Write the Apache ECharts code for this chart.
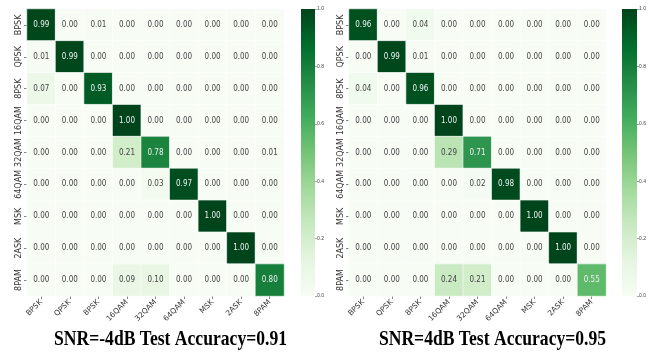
<!DOCTYPE html>
<html>
<head>
<meta charset="utf-8">
<script src="https://cdn.jsdelivr.net/npm/echarts@6/dist/echarts.min.js"></script>
<style>
html,body{margin:0;padding:0;background:#fff;}
#c{width:659px;height:353px;}
</style>
</head>
<body>
<div id="c"></div>
<script>
var classes = ['BPSK','QPSK','8PSK','16QAM','32QAM','64QAM','MSK','2ASK','8PAM'];
var matrixLeft = [
  [0.99,0.00,0.01,0.00,0.00,0.00,0.00,0.00,0.00],
  [0.01,0.99,0.00,0.00,0.00,0.00,0.00,0.00,0.00],
  [0.07,0.00,0.93,0.00,0.00,0.00,0.00,0.00,0.00],
  [0.00,0.00,0.00,1.00,0.00,0.00,0.00,0.00,0.00],
  [0.00,0.00,0.00,0.21,0.78,0.00,0.00,0.00,0.01],
  [0.00,0.00,0.00,0.00,0.03,0.97,0.00,0.00,0.00],
  [0.00,0.00,0.00,0.00,0.00,0.00,1.00,0.00,0.00],
  [0.00,0.00,0.00,0.00,0.00,0.00,0.00,1.00,0.00],
  [0.00,0.00,0.00,0.09,0.10,0.00,0.00,0.00,0.80]
];
var matrixRight = [
  [0.96,0.00,0.04,0.00,0.00,0.00,0.00,0.00,0.00],
  [0.00,0.99,0.01,0.00,0.00,0.00,0.00,0.00,0.00],
  [0.04,0.00,0.96,0.00,0.00,0.00,0.00,0.00,0.00],
  [0.00,0.00,0.00,1.00,0.00,0.00,0.00,0.00,0.00],
  [0.00,0.00,0.00,0.29,0.71,0.00,0.00,0.00,0.00],
  [0.00,0.00,0.00,0.00,0.02,0.98,0.00,0.00,0.00],
  [0.00,0.00,0.00,0.00,0.00,0.00,1.00,0.00,0.00],
  [0.00,0.00,0.00,0.00,0.00,0.00,0.00,1.00,0.00],
  [0.00,0.00,0.00,0.24,0.21,0.00,0.00,0.00,0.55]
];
var titleLeft = 'SNR=-4dB Test Accuracy=0.91';
var titleRight = 'SNR=4dB Test Accuracy=0.95';
var colorbarTicks = [0.0,0.2,0.4,0.6,0.8,1.0];
var scaleRange = [0, 1];

var greens = ['#f7fcf5','#e5f5e0','#c7e9c0','#a1d99b','#74c476','#41ab5d','#238b45','#006d2c','#00441b'];

function cells(m){
  var out = [];
  for (var r=0;r<m.length;r++){
    for (var c=0;c<m[r].length;c++){
      var v = m[r][c];
      out.push({value:[c,r,v], label:{color: v>0.5 ? '#f2f2f2' : '#444444'}});
    }
  }
  return out;
}

var cellFont = "'DejaVu Sans Condensed','Liberation Sans Narrow','Liberation Sans',sans-serif";
var axisFont = "'DejaVu Sans', sans-serif";

var grids = [
  {left:27, top:9, width:257, height:287},
  {left:349, top:9, width:257, height:287},
  {left:301, top:9, width:14, height:287},
  {left:622, top:9, width:15, height:287}
];

function catX(gi){
  return {type:'category', gridIndex:gi, data:classes,
    axisLine:{show:false}, splitArea:{show:false},
    axisTick:{show:true, length:3, alignWithLabel:true, lineStyle:{color:'#666', width:0.8}},
    axisLabel:{rotate:45, fontSize:7.5, color:'#333', fontFamily:axisFont, margin:5, interval:0}};
}
function catY(gi){
  return {type:'category', gridIndex:gi, data:classes, inverse:true,
    axisLine:{show:false}, splitArea:{show:false},
    axisTick:{show:true, length:3, alignWithLabel:true, lineStyle:{color:'#666', width:0.8}},
    axisLabel:{rotate:90, fontSize:8, color:'#333', fontFamily:axisFont, margin:4, interval:0}};
}
function cbX(gi){
  return {type:'category', gridIndex:gi, data:['cb'], show:false};
}
function cbY(gi){
  return {type:'value', gridIndex:gi, min:scaleRange[0], max:scaleRange[1], interval:0.2, position:'right',
    axisLine:{show:false}, splitLine:{show:false},
    axisTick:{show:true, length:2, lineStyle:{color:'#666', width:0.6}},
    axisLabel:{fontSize:5, color:'#444', margin:2, formatter:function(v){return v.toFixed(1);}}};
}

var gradient = new echarts.graphic.LinearGradient(0,1,0,0, greens.map(function(c,i){
  return {offset:i/(greens.length-1), color:c};
}));

function heat(xi, m){
  return {type:'heatmap', xAxisIndex:xi, yAxisIndex:xi, data:cells(m),
    itemStyle:{borderColor:'#ffffff', borderWidth:0.6},
    label:{show:true, fontSize:8, fontFamily:cellFont, formatter:function(p){return p.value[2].toFixed(2);}},
    emphasis:{disabled:true}};
}

var titleFont = "bold 22px 'Liberation Serif','Times New Roman',serif";
function titleText(txt, cx){
  return {type:'text', x:cx, y:339.5, scaleX:0.8, scaleY:1, silent:true,
    style:{text:txt, font:titleFont, fill:'#000', textAlign:'center', textVerticalAlign:'middle'}};
}

var option = {
  backgroundColor:'#fff',
  animation:false,
  graphic:[ titleText(titleLeft, 170.5), titleText(titleRight, 492.5) ],
  grid:grids,
  xAxis:[catX(0), catX(1), cbX(2), cbX(3)],
  yAxis:[catY(0), catY(1), cbY(2), cbY(3)],
  visualMap:[
    {type:'continuous', show:false, min:scaleRange[0], max:scaleRange[1], seriesIndex:[0,1], dimension:2,
     inRange:{color:greens}}
  ],
  series:[
    heat(0, matrixLeft),
    heat(1, matrixRight),
    {type:'bar', xAxisIndex:2, yAxisIndex:2, data:[scaleRange[1]], barWidth:'100%', itemStyle:{color:gradient}, silent:true},
    {type:'bar', xAxisIndex:3, yAxisIndex:3, data:[scaleRange[1]], barWidth:'100%', itemStyle:{color:gradient}, silent:true}
  ]
};
var chart = echarts.init(document.getElementById('c'), null, {renderer:'canvas'});
chart.setOption(option);
</script>
</body>
</html>
